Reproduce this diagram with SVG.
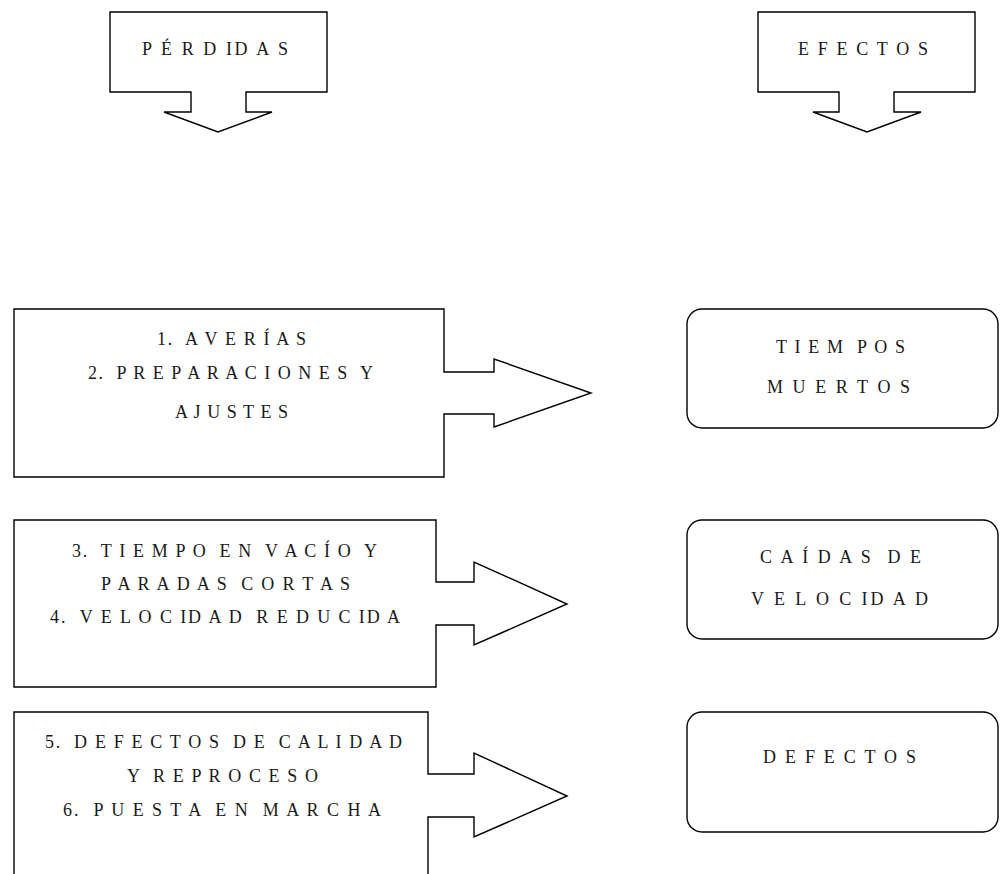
<svg xmlns="http://www.w3.org/2000/svg" width="1001" height="874" viewBox="0 0 1001 874">
<style>
.shape{fill:#ffffff;stroke:#000000;stroke-width:1.4;stroke-linejoin:miter}
.lbl{font-family:"Liberation Serif","Times New Roman",serif;font-size:18px;fill:#1a1a1a;white-space:pre}
</style>
<rect x="0" y="0" width="1001" height="874" fill="#ffffff"/>
<g id="perdidas">
<path class="shape" d="M110,12 H327 V92 H246 V112 H272 L218,132 L164,112 H191 V92 H110 Z"/>
<text class="lbl" x="142" y="55" textLength="146" lengthAdjust="spacing" xml:space="preserve">P É R D ID A S</text>
</g>
<g id="efectos">
<path class="shape" d="M758,12 H975 V92 H894 V112 H921 L867,132 L813,112 H839 V92 H758 Z"/>
<text class="lbl" x="798" y="55" textLength="130" lengthAdjust="spacing" xml:space="preserve">E F E C T O S</text>
</g>
<g id="perdidas-1-2">
<path class="shape" d="M14,309 H444 V372 H494 V359 L591,393 L494,427 V414 H444 V477 H14 Z"/>
<text class="lbl" x="157" y="345" textLength="149" lengthAdjust="spacing" xml:space="preserve">1.  A V E R Í A S</text>
<text class="lbl" x="88" y="379" textLength="285" lengthAdjust="spacing" xml:space="preserve">2.  P R E P A R A C I O N E S  Y</text>
<text class="lbl" x="175" y="418" textLength="113" lengthAdjust="spacing" xml:space="preserve">A J U S T E S</text>
</g>
<g id="perdidas-3-4">
<path class="shape" d="M14,520 H436 V582 H474 V562 L567,604 L474,645 V625 H436 V687 H14 Z"/>
<text class="lbl" x="72" y="557" textLength="305" lengthAdjust="spacing" xml:space="preserve">3.  T I E M P O  E N  V A C Í O  Y</text>
<text class="lbl" x="101" y="590" textLength="249" lengthAdjust="spacing" xml:space="preserve">P A R A D A S  C O R T A S</text>
<text class="lbl" x="50" y="623" textLength="350" lengthAdjust="spacing" xml:space="preserve">4.  V E L O C ID A D  R E D U C ID A</text>
</g>
<g id="perdidas-5-6">
<path class="shape" d="M14,880 V712 H428 V774 H474 V753 L567,796 L474,837 V817 H428 V880"/>
<text class="lbl" x="45" y="748" textLength="357" lengthAdjust="spacing" xml:space="preserve">5.  D E F E C T O S  D E  C A L I D A D</text>
<text class="lbl" x="127" y="782" textLength="191" lengthAdjust="spacing" xml:space="preserve">Y  R E P R O C E S O</text>
<text class="lbl" x="63" y="816" textLength="318" lengthAdjust="spacing" xml:space="preserve">6.  P U E S T A  E N  M A R C H A</text>
</g>
<g id="tiempos-muertos">
<rect class="shape" x="687" y="309" width="311" height="119" rx="15" ry="15"/>
<text class="lbl" x="776" y="353" textLength="129" lengthAdjust="spacing" xml:space="preserve">T I E M  P O S</text>
<text class="lbl" x="767" y="393" textLength="143" lengthAdjust="spacing" xml:space="preserve">M U E R T O S</text>
</g>
<g id="caidas-velocidad">
<rect class="shape" x="687" y="520" width="311" height="119" rx="15" ry="15"/>
<text class="lbl" x="760" y="563" textLength="161" lengthAdjust="spacing" xml:space="preserve">C A Í D A S  D E</text>
<text class="lbl" x="751" y="605" textLength="177" lengthAdjust="spacing" xml:space="preserve">V E L O C ID A D</text>
</g>
<g id="defectos">
<rect class="shape" x="687" y="712" width="311" height="120" rx="15" ry="15"/>
<text class="lbl" x="763" y="763" textLength="153" lengthAdjust="spacing" xml:space="preserve">D E F E C T O S</text>
</g>
<g id="connectors"/>
</svg>
